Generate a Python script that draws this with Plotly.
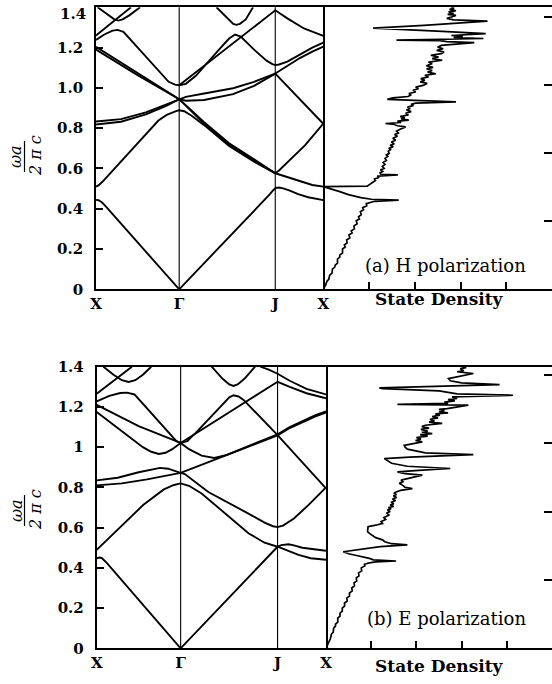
import plotly.graph_objects as go

# ---------------- k-path tick positions (triangular lattice: X=M, J=K) -------------
K_TICKS = [0.0, 1.0, 2.1547, 2.7321]
K_LABELS = ["X", "Γ", "J", "X"]

W_TICKS = [0, 0.2, 0.4, 0.6, 0.8, 1.0, 1.2, 1.4]
W_LABELS_H = ["0", "0.2", "0.4", "0.6", "0.8", "1.0", "1.2", ""]   # top "1.4" drawn as annotation
W_LABELS_E = ["0", "0.2", "0.4", "0.6", "0.8", "1", "1.2", "1.4"]
DOS_TICKS = [1, 2, 3, 4]
DOS_RIGHT_TICKS_H = [0.338, 0.677, 1.014, 1.352]
DOS_RIGHT_TICKS_E = [0.339, 0.677, 1.02, 1.359]

# ---------------- (a) H polarization bands: (k, omega a / 2 pi c) -------------------
h_a = ([0, 0.03, 0.07, 0.12, 1.0, 1.85, 1.95, 2.03, 2.09, 2.13, 2.16, 2.2, 2.26, 2.33, 2.43, 2.55, 2.65, 2.732],
       [0.444, 0.442, 0.432, 0.41, 0.0, 0.37, 0.41, 0.443, 0.472, 0.492, 0.503, 0.505, 0.5, 0.49, 0.472, 0.457, 0.448, 0.443])
h_b = ([0, 0.03, 0.08, 0.43, 0.75, 0.85, 0.92, 0.97, 1.0, 1.06, 1.15, 1.3, 1.6, 1.9, 2.155, 2.3, 2.434, 2.6, 2.732],
       [0.51, 0.516, 0.535, 0.695, 0.838, 0.866, 0.879, 0.886, 0.889, 0.884, 0.862, 0.815, 0.712, 0.634, 0.576, 0.556, 0.538, 0.518, 0.51])
h_c1 = ([0, 0.473, 1.0, 1.3, 1.6, 1.9, 2.155],
        [1.204, 1.081, 0.944, 0.83, 0.725, 0.645, 0.576])
h_c2 = ([0, 0.5, 1.0, 1.3, 1.6, 1.9, 2.155],
        [1.19, 1.063, 0.944, 0.822, 0.717, 0.638, 0.576])
h_c3 = ([2.155, 2.2, 2.514, 2.732],
        [0.576, 0.59, 0.716, 0.822])
h_d1 = ([0, 0.3, 0.6, 0.85, 1.0, 1.08, 1.3, 1.647, 1.9, 2.155],
        [0.833, 0.845, 0.878, 0.918, 0.944, 0.955, 0.972, 0.998, 1.03, 1.071])
h_d2 = ([0, 0.3, 0.6, 0.85, 1.0, 1.08, 1.3, 1.647, 1.9, 2.155],
        [0.818, 0.832, 0.868, 0.912, 0.944, 0.936, 0.94, 0.969, 1.01, 1.071])
h_d3 = ([2.155, 2.732], [1.071, 0.822])
h_d4 = ([2.155, 2.3, 2.45, 2.6, 2.732], [1.071, 1.11, 1.148, 1.18, 1.205])
h_e = ([0, 0.1, 0.2, 0.26, 0.33, 0.873, 0.95, 1.0, 1.08, 1.2, 1.5, 1.6, 1.671, 1.74, 1.9, 2.05, 2.12, 2.155, 2.2, 2.3, 2.45, 2.6, 2.732],
       [1.238, 1.265, 1.284, 1.288, 1.278, 1.03, 1.016, 1.013, 1.02, 1.06, 1.2, 1.245, 1.265, 1.255, 1.19, 1.135, 1.118, 1.113, 1.116, 1.13, 1.165, 1.2, 1.225])
h_f = ([1.0, 2.155, 2.3, 2.5, 2.732], [1.013, 1.385, 1.345, 1.295, 1.258])
h_g = ([0, 0.42], [1.26, 1.4])
h_v1 = ([0.02, 0.15, 0.22, 0.268, 0.32, 0.4, 0.53], [1.4, 1.36, 1.34, 1.334, 1.34, 1.36, 1.4])
h_v2 = ([1.448, 1.6, 1.65, 1.687, 1.73, 1.8, 1.887], [1.4, 1.335, 1.318, 1.313, 1.318, 1.34, 1.4])
H_BANDS = [h_a, h_b, h_c1, h_c2, h_c3, h_d1, h_d2, h_d3, h_d4, h_e, h_f, h_g, h_v1, h_v2]

# ---------------- (b) E polarization bands ------------------------------------------
e_a = ([0, 0.03, 0.06, 0.12, 1.0, 2.155], [0.447, 0.451, 0.449, 0.425, 0.0, 0.505])
e_a2 = ([2.155, 2.25, 2.405, 2.55, 2.732], [0.505, 0.49, 0.464, 0.448, 0.44])
e_a3 = ([2.155, 2.2, 2.286, 2.35, 2.45, 2.6, 2.732], [0.505, 0.513, 0.517, 0.512, 0.5, 0.49, 0.485])
e_b = ([0, 0.553, 0.8, 0.92, 1.0, 1.1, 1.25, 1.41, 1.6, 1.808, 2.0, 2.155],
       [0.489, 0.712, 0.79, 0.812, 0.82, 0.808, 0.77, 0.713, 0.645, 0.572, 0.525, 0.505])
e_c = ([1.0, 1.05, 1.33, 1.728, 1.852, 2.0, 2.1, 2.155, 2.22, 2.35, 2.525, 2.732],
       [0.872, 0.866, 0.777, 0.69, 0.66, 0.625, 0.607, 0.603, 0.61, 0.645, 0.713, 0.80])
e_d1 = ([0, 0.25, 0.5, 0.65, 0.755, 0.85, 0.92, 1.0], [0.835, 0.848, 0.875, 0.89, 0.897, 0.893, 0.882, 0.872])
e_d2 = ([0, 0.3, 0.6, 0.85, 1.0], [0.81, 0.82, 0.84, 0.86, 0.872])
e_t1 = ([1.0, 2.155, 2.3, 2.45, 2.6, 2.732], [0.872, 1.058, 1.095, 1.124, 1.152, 1.172])
e_t2 = ([1.0, 1.1, 1.25, 1.4, 1.55, 1.75, 1.95, 2.155, 2.3, 2.45, 2.6, 2.732],
        [1.021, 0.99, 0.958, 0.946, 0.962, 0.995, 1.03, 1.064, 1.1, 1.13, 1.158, 1.178])
e_e = ([0, 0.3, 0.55, 0.65, 0.74, 0.82, 0.9, 1.0], [1.175, 1.08, 1.0, 0.977, 0.966, 0.972, 0.99, 1.021])
e_f = ([0, 0.5, 1.0], [1.21, 1.105, 1.021])
e_h = ([0, 0.15, 0.28, 0.36, 0.45, 0.95, 1.0], [1.228, 1.255, 1.269, 1.271, 1.262, 1.03, 1.021])
e_i = ([1.0, 1.08, 1.2, 1.5, 1.58, 1.63, 1.69, 1.75, 1.9, 2.155, 2.732],
       [1.021, 1.03, 1.08, 1.215, 1.248, 1.258, 1.252, 1.235, 1.17, 1.06, 0.795])
e_j = ([1.0, 2.155, 2.3, 2.5, 2.732], [1.021, 1.325, 1.3, 1.268, 1.243])
e_k = ([1.95, 2.05, 2.155, 2.3, 2.5, 2.732], [1.4, 1.385, 1.365, 1.33, 1.29, 1.262])
e_g = ([0, 0.42], [1.266, 1.4])
e_v1 = ([0.08, 0.2, 0.3, 0.38, 0.46, 0.55, 0.65], [1.4, 1.36, 1.333, 1.324, 1.333, 1.36, 1.4])
e_v2 = ([1.37, 1.5, 1.58, 1.63, 1.68, 1.76, 1.887], [1.4, 1.34, 1.312, 1.304, 1.312, 1.34, 1.4])
E_BANDS = [e_a, e_a2, e_a3, e_b, e_c, e_d1, e_d2, e_t1, e_t2, e_e, e_f, e_h, e_i, e_j, e_k, e_g, e_v1, e_v2]

# ---------------- state densities: (frequency, density in tick units) ---------------
H_DOS = [
    (0.00, 0.00), (0.02, 0.05), (0.04, 0.08), (0.05, 0.12), (0.07, 0.14), (0.08, 0.19), (0.10, 0.20),
    (0.11, 0.25), (0.12, 0.26), (0.13, 0.31), (0.15, 0.31), (0.16, 0.36), (0.17, 0.36), (0.18, 0.42),
    (0.20, 0.42), (0.21, 0.48), (0.22, 0.46), (0.23, 0.52), (0.245, 0.51), (0.255, 0.58), (0.27, 0.56),
    (0.28, 0.63), (0.29, 0.61), (0.30, 0.68), (0.315, 0.67), (0.325, 0.74), (0.34, 0.72), (0.35, 0.79),
    (0.36, 0.77), (0.37, 0.83), (0.385, 0.81), (0.395, 0.88), (0.405, 0.86), (0.415, 0.95), (0.425, 0.94),
    (0.432, 1.04), (0.437, 1.12), (0.443, 1.65), (0.447, 1.05), (0.455, 0.82), (0.47, 0.55), (0.485, 0.36),
    (0.50, 0.15), (0.51, 0.0), (0.512, 0.96), (0.52, 1.02), (0.53, 1.08), (0.54, 1.14), (0.548, 1.12),
    (0.555, 1.22), (0.562, 1.18), (0.566, 1.45), (0.568, 1.63), (0.571, 1.26), (0.578, 1.24), (0.585, 1.30),
    (0.593, 1.25), (0.60, 1.33), (0.61, 1.29), (0.62, 1.35), (0.63, 1.31), (0.64, 1.38), (0.65, 1.35),
    (0.66, 1.41), (0.667, 1.38), (0.675, 1.44), (0.685, 1.42), (0.695, 1.48), (0.70, 1.43), (0.708, 1.53),
    (0.715, 1.46), (0.722, 1.55), (0.731, 1.49), (0.74, 1.58), (0.75, 1.52), (0.76, 1.62), (0.768, 1.56),
    (0.776, 1.64), (0.785, 1.60), (0.795, 1.68), (0.806, 1.80), (0.812, 1.62), (0.818, 1.55), (0.823, 1.36),
    (0.828, 1.70), (0.835, 1.62), (0.84, 1.87), (0.846, 1.70), (0.852, 1.78), (0.858, 1.68), (0.866, 1.86),
    (0.874, 1.80), (0.882, 1.92), (0.89, 1.82), (0.898, 1.90), (0.905, 1.84), (0.912, 1.97), (0.918, 1.92),
    (0.924, 2.02), (0.93, 2.90), (0.936, 2.00), (0.943, 1.40), (0.95, 1.52), (0.957, 1.85), (0.965, 1.92),
    (0.972, 1.87), (0.98, 2.02), (0.988, 1.96), (0.996, 2.08), (1.004, 2.02), (1.012, 2.18), (1.022, 2.27),
    (1.03, 2.12), (1.038, 2.22), (1.046, 2.13), (1.054, 2.30), (1.062, 2.22), (1.07, 2.46), (1.078, 2.28),
    (1.086, 2.38), (1.094, 2.26), (1.102, 2.40), (1.11, 2.25), (1.12, 2.38), (1.128, 2.30), (1.137, 2.60),
    (1.145, 2.38), (1.153, 2.52), (1.162, 2.35), (1.17, 2.58), (1.178, 2.64), (1.186, 2.48), (1.194, 2.62),
    (1.202, 2.50), (1.211, 2.58), (1.218, 2.90), (1.225, 3.30), (1.23, 2.70), (1.235, 2.55), (1.237, 1.60),
    (1.241, 2.70), (1.245, 3.50), (1.25, 2.85), (1.255, 3.05), (1.26, 2.80), (1.269, 3.55), (1.28, 2.60),
    (1.297, 1.09), (1.31, 2.20), (1.331, 3.59), (1.338, 2.85), (1.345, 2.70), (1.352, 2.80), (1.36, 2.90),
    (1.365, 2.72), (1.37, 2.85), (1.377, 2.74), (1.383, 2.90), (1.39, 2.76), (1.395, 2.86), (1.40, 2.80),
]
E_DOS = [
    (0.00, 0.00), (0.02, 0.04), (0.04, 0.07), (0.05, 0.10), (0.07, 0.12), (0.08, 0.16), (0.10, 0.17),
    (0.11, 0.21), (0.12, 0.21), (0.13, 0.26), (0.15, 0.26), (0.16, 0.31), (0.175, 0.31), (0.185, 0.36),
    (0.20, 0.36), (0.21, 0.41), (0.225, 0.41), (0.235, 0.47), (0.25, 0.46), (0.26, 0.52), (0.275, 0.52),
    (0.285, 0.58), (0.30, 0.57), (0.31, 0.63), (0.325, 0.62), (0.335, 0.68), (0.35, 0.67), (0.36, 0.73),
    (0.375, 0.72), (0.385, 0.79), (0.40, 0.78), (0.41, 0.86), (0.418, 0.85), (0.425, 0.96), (0.43, 1.10),
    (0.434, 1.55), (0.44, 1.05), (0.447, 0.96), (0.46, 0.70), (0.47, 0.50), (0.48, 0.38), (0.49, 0.75),
    (0.497, 1.03), (0.505, 1.20), (0.514, 1.80), (0.52, 1.45), (0.53, 1.30), (0.539, 1.25), (0.55, 1.10),
    (0.56, 1.02), (0.571, 0.96), (0.58, 0.92), (0.59, 0.92), (0.605, 0.93), (0.612, 1.10), (0.621, 1.25),
    (0.63, 1.22), (0.64, 1.32), (0.65, 1.28), (0.663, 1.40), (0.672, 1.34), (0.68, 1.42), (0.688, 1.36),
    (0.694, 1.44), (0.70, 1.38), (0.705, 1.50), (0.712, 1.42), (0.719, 1.50), (0.726, 1.44), (0.735, 1.54),
    (0.742, 1.47), (0.75, 1.56), (0.758, 1.49), (0.765, 1.56), (0.77, 1.50), (0.777, 1.55), (0.785, 1.65),
    (0.794, 1.91), (0.80, 1.75), (0.81, 1.70), (0.82, 1.62), (0.828, 1.70), (0.836, 1.66), (0.85, 1.90),
    (0.861, 2.13), (0.868, 1.75), (0.877, 1.58), (0.885, 2.05), (0.894, 2.75), (0.905, 1.80), (0.92, 1.45),
    (0.943, 1.29), (0.95, 1.85), (0.963, 3.26), (0.972, 2.20), (0.99, 1.80), (1.0, 1.75), (1.009, 1.73),
    (1.018, 1.95), (1.026, 2.13), (1.033, 1.98), (1.04, 2.10), (1.048, 2.00), (1.055, 2.25), (1.062, 2.08),
    (1.067, 2.35), (1.074, 2.12), (1.08, 2.25), (1.088, 2.10), (1.095, 2.28), (1.102, 2.12), (1.109, 2.20),
    (1.118, 2.57), (1.124, 2.28), (1.13, 2.40), (1.138, 2.30), (1.145, 2.48), (1.152, 2.35), (1.159, 2.52),
    (1.165, 2.42), (1.17, 2.70), (1.176, 2.50), (1.182, 2.62), (1.188, 2.50), (1.192, 2.68), (1.2, 2.90),
    (1.209, 3.15), (1.213, 1.58), (1.218, 2.70), (1.224, 2.62), (1.23, 2.85), (1.236, 2.70), (1.242, 2.90),
    (1.25, 2.79), (1.258, 4.14), (1.265, 2.90), (1.28, 2.50), (1.291, 1.26), (1.295, 1.18), (1.30, 2.00),
    (1.311, 3.84), (1.32, 3.00), (1.33, 2.75), (1.341, 2.71), (1.35, 2.90), (1.358, 3.05), (1.366, 3.26),
    (1.375, 2.90), (1.38, 3.05), (1.385, 3.00), (1.39, 2.97), (1.395, 3.10), (1.40, 3.02),
]
H_DOS_W = [p[0] for p in H_DOS]
H_DOS_D = [p[1] for p in H_DOS]
E_DOS_W = [p[0] for p in E_DOS]
E_DOS_D = [p[1] for p in E_DOS]

# ---------------- layout geometry (paper fractions) -----------------------------------
W, H = 552, 684
def px(x): return x / W
def py(y): return 1 - y / H

TOP = dict(band_x=[px(96), px(323.3)], dos_x=[px(323.3), 1.0], y=[py(289.3), py(7.3)])
BOT = dict(band_x=[px(96.7), px(326)], dos_x=[px(326), 1.0], y=[py(648.3), py(366.7)])

LINE = dict(color="black", width=1.9)
SERIF = "DejaVu Serif"

fig = go.Figure()

def add_panel(bands, dos_w, dos_d, xa, ya, xd, yd):
    for k, w in bands:
        fig.add_trace(go.Scatter(x=k, y=w, mode="lines", line=LINE,
                                 xaxis=xa, yaxis=ya, showlegend=False, hoverinfo="skip"))
    fig.add_trace(go.Scatter(x=dos_d, y=dos_w, mode="lines", line=dict(color="black", width=1.7),
                             xaxis=xd, yaxis=yd, showlegend=False, hoverinfo="skip"))

add_panel(H_BANDS, H_DOS_W, H_DOS_D, "x", "y", "x2", "y2")
add_panel(E_BANDS, E_DOS_W, E_DOS_D, "x3", "y3", "x4", "y4")

tickfont = dict(family=SERIF, size=15, color="black", weight="bold")

def band_axes(dom_x, dom_y, ylabels, yanchor, xanchor):
    xax = dict(domain=dom_x, range=[0, K_TICKS[-1]], tickvals=K_TICKS, ticktext=K_LABELS,
               ticks="", showgrid=False, zeroline=False, showline=True, mirror=True,
               linecolor="black", linewidth=1.8, tickfont=tickfont, anchor=yanchor,
               automargin=False, ticklabelstandoff=0)
    yax = dict(domain=dom_y, range=[0, 1.4], tickvals=W_TICKS, ticktext=ylabels,
               ticks="inside", ticklen=7, tickwidth=1.5, tickcolor="black",
               showgrid=False, zeroline=False, showline=True, mirror=True,
               linecolor="black", linewidth=1.8, tickfont=tickfont, anchor=xanchor,
               automargin=False, ticklabelstandoff=8)
    return xax, yax

def dos_axes(dom_x, dom_y, rticks, yanchor, xanchor):
    xax = dict(domain=dom_x, range=[0, 5], tickvals=DOS_TICKS, ticks="inside", ticklen=7,
               tickwidth=1.5, tickcolor="black", showticklabels=False, showgrid=False,
               zeroline=False, showline=True, mirror=True, linecolor="black", linewidth=1.8,
               anchor=yanchor, automargin=False)
    yax = dict(domain=dom_y, range=[0, 1.4], tickvals=rticks, ticks="inside", ticklen=8,
               tickwidth=1.5, tickcolor="black", showticklabels=False, showgrid=False,
               zeroline=False, showline=True, mirror=False, side="right", linecolor="black",
               linewidth=1.8, anchor=xanchor, automargin=False)
    return xax, yax

x1, y1 = band_axes(TOP["band_x"], TOP["y"], W_LABELS_H, "y", "x")
x2, y2 = dos_axes(TOP["dos_x"], TOP["y"], DOS_RIGHT_TICKS_H, "y2", "x2")
x3, y3 = band_axes(BOT["band_x"], BOT["y"], W_LABELS_E, "y3", "x3")
x4, y4 = dos_axes(BOT["dos_x"], BOT["y"], DOS_RIGHT_TICKS_E, "y4", "x4")

fig.update_layout(
    width=W, height=H, margin=dict(l=0, r=0, t=0, b=0),
    paper_bgcolor="white", plot_bgcolor="white", showlegend=False,
    xaxis=x1, yaxis=y1, xaxis2=x2, yaxis2=y2, xaxis3=x3, yaxis3=y3, xaxis4=x4, yaxis4=y4,
)

# vertical symmetry-point lines (Γ and J)
for xa, ya in (("x", "y"), ("x3", "y3")):
    for kv in K_TICKS[1:3]:
        fig.add_shape(type="line", xref=xa, yref=ya + " domain", x0=kv, x1=kv, y0=0, y1=1,
                      line=dict(color="black", width=1.1))

def note(x, y, text, font, **kw):
    fig.add_annotation(x=px(x), y=py(y), xref="paper", yref="paper", text=text, showarrow=False,
                       xanchor=kw.pop("xanchor", "center"), yanchor=kw.pop("yanchor", "middle"),
                       font=font, **kw)

bold15 = dict(family=SERIF, size=15, color="black", weight="bold")
bold17 = dict(family=SERIF, size=17, color="black", weight="bold")
reg18 = dict(family=SERIF, size=18, color="black")
reg16 = dict(family=SERIF, size=16, color="black")

note(88, 14, "1.4", bold15, xanchor="right")
note(439, 299, "State Density", bold17)
note(439, 666, "State Density", bold17)
note(445, 265, "(a) H polarization", reg18)
note(446, 618, "(b) E polarization", reg18)

for yc in (156, 510):
    note(16, yc + 1, "<i>ωa</i>", reg16, textangle=-90)
    note(35, yc, "<i>2 π c</i>", reg16, textangle=-90)
    fig.add_shape(type="line", xref="paper", yref="paper", x0=px(24.5), x1=px(24.5),
                  y0=py(yc - 15), y1=py(yc + 16), line=dict(color="black", width=1.2))

fig.write_html("out.html")
